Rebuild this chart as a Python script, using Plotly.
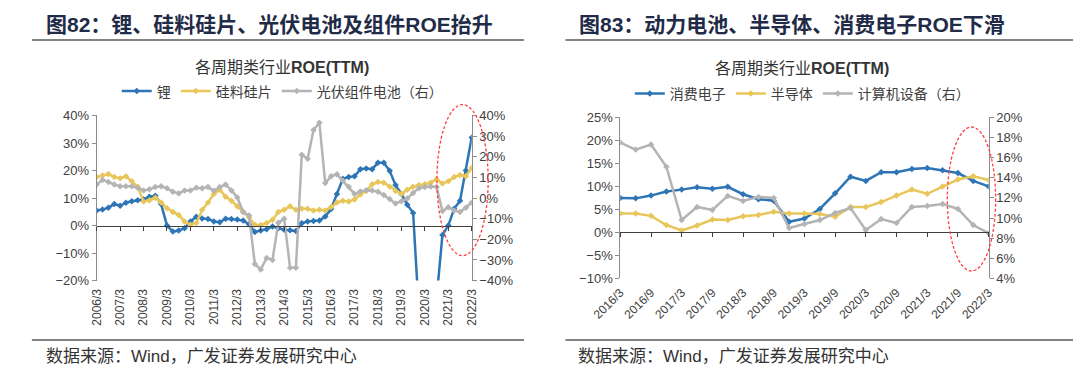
import plotly.graph_objects as go

W, H = 1080, 375
FONT = "Liberation Sans, Arial, Noto Sans CJK SC, sans-serif"
CJK = "Noto Sans CJK SC, Liberation Sans, sans-serif"

# ---------------- Left chart: quarterly 2006/3 - 2022/3 ----------------
left_quarters = [f"{y}/{m}" for y in range(2006, 2022) for m in (3, 6, 9, 12)] + ["2022/3"]
left_tick_labels = [f"{y}/3" for y in range(2006, 2023)]

lithium = [5.5, 5.8, 6.5, 7.8, 7.2, 8.3, 8.8, 9.2, 9.5, 10.5,
           10.8, 7.8, 0.0, -2.2, -1.8, -1.0, 1.5, 3.2, 2.6, 2.4,
           1.5, 1.2, 2.5, 2.4, 2.2, 1.8, 0.5, -2.3, -1.8, -1.3,
           -0.3, -1.0, -1.5, -1.7, -2.0, 0.8, 1.5, 1.7, 1.8, 3.3,
           6.0, 11.5, 17.0, 17.6, 17.9, 20.5, 20.7, 20.5, 22.8, 22.8,
           19.9, 14.7, 11.5, 7.6, 4.6, -32.0, -55.0, -50.0, -27.0, -3.4,
           0.0, 6.1, 9.0, 20.0, 32.0]
silicon = [17.6, 18.2, 18.7, 17.6, 17.2, 17.9, 16.1, 14.1, 8.7, 9.2,
           10.1, 8.4, 6.3, 4.9, 3.8, 1.5, 0.3, 0.9, 5.7, 8.4,
           11.5, 13.0, 10.5, 9.0, 7.0, 5.0, 3.0, 0.3, 0.2, 0.9,
           2.1, 4.9, 5.7, 7.0, 5.7, 6.1, 6.1, 5.5, 5.7, 5.5,
           6.7, 8.4, 9.0, 8.7, 9.5, 11.3, 12.6, 15.0, 15.8, 15.6,
           14.2, 12.6, 11.5, 13.0, 14.1, 14.7, 15.0, 15.6, 16.8, 15.3,
           16.1, 17.6, 18.4, 17.9, 21.0]
pv_module = [6.5, 8.8, 7.8, 6.5, 5.7, 5.7, 5.7, 5.0, 3.7, 4.2,
             5.3, 5.7, 4.7, 3.1, 2.2, 3.7, 3.7, 5.0, 4.7, 5.3,
             3.5, 5.3, 6.5, 3.7, 0.3, -6.8, -8.5, -32.0, -34.6, -29.0,
             -30.0, -12.0, -10.0, -33.8, -33.8, 21.0, 19.0, 33.0, 36.5, 7.3,
             10.5, 11.5, 8.5, 5.5, 2.0, 3.2, 3.8, 3.6, 3.0, 1.5,
             -0.5, -2.6, -1.6, -0.2, 2.5, 4.8, 5.3, 5.6, 5.4, -6.3,
             -4.5, -6.0, -6.8, -4.7, -2.2]

# ---------------- Right chart: quarterly 2016/3 - 2022/3 ----------------
right_quarters = [f"{y}/{m}" for y in range(2016, 2022) for m in (3, 6, 9, 12)] + ["2022/3"]
right_tick_labels = [f"{y}/{m}" for y in range(2016, 2022) for m in (3, 9)] + ["2022/3"]

consumer = [7.5, 7.4, 8.0, 8.9, 9.3, 9.8, 9.5, 9.9, 8.3, 7.2,
            6.9, 2.3, 3.0, 5.1, 8.5, 12.1, 11.2, 13.1, 13.1, 13.8,
            14.0, 13.5, 12.9, 11.2, 10.0]
semicon = [4.1, 4.1, 3.6, 1.6, 0.4, 1.5, 2.8, 2.7, 3.5, 3.8,
           4.5, 4.1, 4.1, 4.0, 3.4, 5.5, 5.5, 6.6, 8.0, 9.3,
           8.4, 10.0, 11.5, 12.2, 11.4]
computer = [17.5, 16.8, 17.3, 15.1, 9.8, 11.1, 10.8, 12.2, 11.7, 12.1,
            12.0, 9.0, 9.4, 9.8, 10.5, 11.0, 8.8, 9.9, 9.5, 11.1,
            11.2, 11.4, 10.9, 9.3, 8.5]

BLUE, YELLOW, GRAY = "#2E75B6", "#E8C65A", "#B4B4B4"
AX = "#8C8C8C"
ZL = "#404040"
TXT = "#404040"


def px(x):
    return x / W


def py(y):
    return 1 - y / H


# plot areas (pixels)
L = dict(x0=70, x1=458, top=113, bot=285)
R = dict(x0=611.7, x1=992.7, top=115, bot=282.7)
LY, LY2 = [-20, 40], [-40, 40]
RY, RY2 = [-10, 25], [4, 20]


def zero_pos(area, yr):
    d0, d1 = py(area["bot"]), py(area["top"])
    return d0 + (0 - yr[0]) / (yr[1] - yr[0]) * (d1 - d0)


fig = go.Figure()


def line(x, y, name, color, xa, ya, legend):
    fig.add_trace(go.Scatter(
        x=x, y=y, name=name, mode="lines+markers", xaxis=xa, yaxis=ya, legend=legend,
        line=dict(color=color, width=2.5),
        marker=dict(symbol="diamond", size=5, color=color),
        hoverinfo="skip"))


line(left_quarters, lithium, "锂", BLUE, "x", "y", "legend")
line(left_quarters, silicon, "硅料硅片", YELLOW, "x", "y", "legend")
line(left_quarters, pv_module, "光伏组件电池（右）", GRAY, "x", "y2", "legend")
line(right_quarters, consumer, "消费电子", BLUE, "x2", "y3", "legend2")
line(right_quarters, semicon, "半导体", YELLOW, "x2", "y3", "legend2")
line(right_quarters, computer, "计算机设备（右）", GRAY, "x2", "y4", "legend2")

# transparent helper traces so the zero-line tick axes know the categories
fig.add_trace(go.Scatter(x=left_quarters, y=lithium, xaxis="x3", yaxis="y", mode="lines",
                         opacity=0, showlegend=False, hoverinfo="skip"))
fig.add_trace(go.Scatter(x=right_quarters, y=consumer, xaxis="x4", yaxis="y3", mode="lines",
                         opacity=0, showlegend=False, hoverinfo="skip"))

tickfont = dict(family=FONT, size=13, color=TXT)
ycommon = dict(showgrid=False, zeroline=False, showline=True, linecolor=AX, linewidth=1,
               ticks="outside", ticklen=4, tickcolor=AX, ticksuffix="%", tickfont=tickfont)

fig.update_layout(
    width=W, height=H, autosize=False,
    margin=dict(l=0, r=0, t=0, b=0),
    paper_bgcolor="white", plot_bgcolor="white",
    font=dict(family=FONT, color=TXT),
    xaxis=dict(domain=[px(L["x0"]), px(L["x1"])], anchor="y", type="category",
               range=[0, len(left_quarters) - 1], tickvals=left_tick_labels, ticktext=left_tick_labels,
               tickangle=-90, ticks="", showline=False, showgrid=False, zeroline=False,
               tickfont=dict(family=FONT, size=12, color=TXT), ticklabelstandoff=5),
    yaxis=dict(domain=[py(L["bot"]), py(L["top"])], anchor="x", range=LY, dtick=10, **ycommon),
    yaxis2=dict(overlaying="y", anchor="x", side="right", range=LY2, dtick=10, **ycommon),
    xaxis3=dict(overlaying="x", anchor="free", position=zero_pos(L, LY), type="category",
                range=[0, len(left_quarters) - 1], tickvals=left_tick_labels,
                showticklabels=False, ticks="outside", ticklen=4, tickcolor=ZL,
                showline=True, linecolor=ZL, linewidth=1, showgrid=False, zeroline=False),
    xaxis2=dict(domain=[px(R["x0"]), px(R["x1"])], anchor="y3", type="category",
                range=[0, len(right_quarters) - 1], tickvals=right_tick_labels, ticktext=right_tick_labels,
                tickangle=-45, ticks="", showline=False, showgrid=False, zeroline=False,
                tickfont=dict(family=FONT, size=12, color=TXT), ticklabelstandoff=4),
    yaxis3=dict(domain=[py(R["bot"]), py(R["top"])], anchor="x2", range=RY, dtick=5, **ycommon),
    yaxis4=dict(overlaying="y3", anchor="x2", side="right", range=RY2, dtick=2, **ycommon),
    xaxis4=dict(overlaying="x2", anchor="free", position=zero_pos(R, RY), type="category",
                range=[0, len(right_quarters) - 1], tickvals=right_tick_labels,
                showticklabels=False, ticks="outside", ticklen=4, tickcolor=ZL,
                showline=True, linecolor=ZL, linewidth=1, showgrid=False, zeroline=False),
    legend=dict(orientation="h", x=px(262), xanchor="center", y=py(88), yanchor="middle",
                itemwidth=30, font=dict(family=CJK, size=14, color=TXT), bgcolor="rgba(0,0,0,0)"),
    legend2=dict(orientation="h", x=px(800), xanchor="center", y=py(90.5), yanchor="middle",
                 itemwidth=30, font=dict(family=CJK, size=14, color=TXT), bgcolor="rgba(0,0,0,0)"),
)

TITLE_C = "#1F2B47"
ann = [
    dict(x=px(15), y=py(18), text="<b>图82：锂、硅料硅片、光伏电池及组件ROE抬升</b>",
         font=dict(family=FONT, size=21, color=TITLE_C)),
    dict(x=px(567), y=py(18), text="<b>图83：动力电池、半导体、消费电子ROE下滑</b>",
         font=dict(family=FONT, size=21, color=TITLE_C)),
    dict(x=px(15), y=py(364), text="数据来源：Wind，广发证券发展研究中心",
         font=dict(family=FONT, size=17, color="#333333")),
    dict(x=px(566), y=py(364), text="数据来源：Wind，广发证券发展研究中心",
         font=dict(family=FONT, size=17, color="#333333")),
]
for a in ann:
    fig.add_annotation(xref="paper", yref="paper", xanchor="left", yanchor="middle",
                       showarrow=False, **a)
for cx, cy in [(262, 63), (800, 64)]:
    fig.add_annotation(xref="paper", yref="paper", x=px(cx), y=py(cy), xanchor="center",
                       yanchor="middle", showarrow=False, text="各周期类行业<b>ROE(TTM)</b>",
                       font=dict(family=FONT, size=16, color="#333333"))

# separator rules
for x0, x1 in [(3, 512), (555, 1080)]:
    for yy in (34.5, 347):
        fig.add_shape(type="line", xref="paper", yref="paper", x0=px(x0), x1=px(x1),
                      y0=py(yy), y1=py(yy), line=dict(color="#595959", width=1.5))

# red dashed highlight ellipses
for x0, x1, y0, y1 in [(422, 475, 101.7, 259), (950, 1000, 125, 275)]:
    fig.add_shape(type="circle", xref="paper", yref="paper", x0=px(x0), x1=px(x1),
                  y0=py(y1), y1=py(y0), line=dict(color="#FF4040", width=1.3, dash="3px,2px"))

fig.write_html("out.html", config={"displayModeBar": False},
               post_script="document.body.style.margin='0';")
